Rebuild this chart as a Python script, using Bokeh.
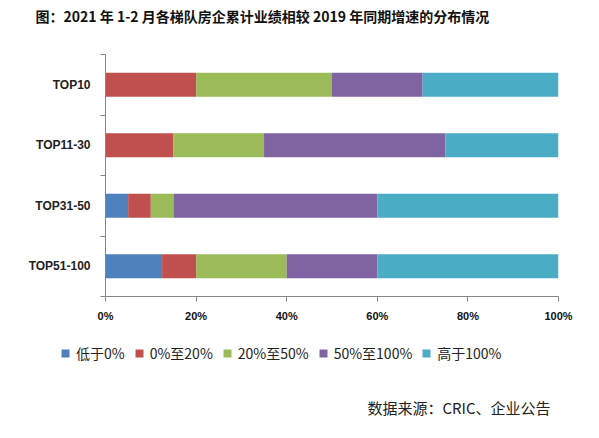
from bokeh.plotting import figure
from bokeh.layouts import column, row
from bokeh.models import (ColumnDataSource, Range1d, FixedTicker, PrintfTickFormatter,
                          Legend, LegendItem, Label)
from bokeh.embed import file_html
from bokeh.resources import INLINE

# data (share of companies, %)
categories = ["TOP10", "TOP11-30", "TOP31-50", "TOP51-100"]
series = ["低于0%", "0%至20%", "20%至50%", "50%至100%", "高于100%"]
below_0 = [0, 0, 5, 12.5]
from_0_to_20 = [20, 15, 5, 7.5]
from_20_to_50 = [30, 20, 5, 20]
from_50_to_100 = [20, 40, 45, 20]
above_100 = [30, 25, 40, 40]
x_ticks = [0, 20, 40, 60, 80, 100]

colors = ["#4F81BD", "#C0504D", "#9BBB59", "#8064A2", "#4BACC6"]
keys = ["s0", "s1", "s2", "s3", "s4"]

source = ColumnDataSource(data=dict(
    y=list(range(len(categories))),
    s0=below_0, s1=from_0_to_20, s2=from_20_to_50, s3=from_50_to_100, s4=above_100,
))


def blank(h):
    f = figure(width=591, height=h, x_range=Range1d(0, 591), y_range=Range1d(0, h),
               x_axis_location=None, y_axis_location=None,
               output_backend="svg", toolbar_location=None, min_border=0)
    f.grid.visible = False
    f.outline_line_color = None
    return f


# top strip: title
p0 = blank(30)
p0.add_layout(Label(x=35, y=15, x_units="screen", y_units="screen",
                    text="图：2021 年 1-2 月各梯队房企累计业绩相较 2019 年同期增速的分布情况",
                    text_align="left", text_baseline="middle",
                    text_font="Noto Sans CJK SC", text_font_style="bold",
                    text_font_size="14px", text_color="#111111"))

# main chart
p = figure(width=591, height=300, x_range=Range1d(0, 100),
           y_range=Range1d(len(categories) - 0.5, -0.5),
           output_backend="svg", toolbar_location=None,
           min_border_left=105, min_border_right=33, min_border_top=24, min_border_bottom=34)
p.outline_line_color = None
p.xgrid.visible = False
p.ygrid.visible = False

p.hbar_stack(keys, y="y", height=0.4, color=colors, line_color=None, source=source)

xa = p.xaxis[0]
xa.ticker = FixedTicker(ticks=x_ticks)
xa.formatter = PrintfTickFormatter(format="%d%%")
xa.axis_line_color = "#868686"
xa.major_tick_line_color = "#868686"
xa.major_tick_out = 5
xa.major_tick_in = 0
xa.minor_tick_line_color = None
xa.major_label_text_font = "Liberation Sans"
xa.major_label_text_font_style = "bold"
xa.major_label_text_font_size = "11px"
xa.major_label_text_color = "#111111"
xa.major_label_standoff = 8

# y axis: labels at centres, ticks on the category boundaries
ya = p.yaxis[0]
ya.ticker = FixedTicker(ticks=list(range(len(categories))),
                        minor_ticks=[i - 0.5 for i in range(len(categories) + 1)])
ya.major_label_overrides = {i: c for i, c in enumerate(categories)}
ya.axis_line_color = "#868686"
ya.major_tick_line_color = None
ya.minor_tick_line_color = "#868686"
ya.minor_tick_out = 5
ya.minor_tick_in = 0
ya.major_label_text_font = "Liberation Sans"
ya.major_label_text_font_style = "bold"
ya.major_label_text_font_size = "12px"
ya.major_label_text_color = "#222222"
ya.major_label_standoff = 9

# bottom strip: legend and source note
p2 = blank(108)
proxies = p2.hbar_stack(keys, y="y", height=0.4, color=colors, line_color=None, source=source)
for r in proxies:
    r.visible = False

legend = Legend(
    items=[LegendItem(label=s, renderers=[r]) for s, r in zip(series, proxies)],
    orientation="horizontal", location=(60, 75),
    glyph_width=10, glyph_height=10, label_standoff=6, spacing=9,
    padding=0, margin=0, border_line_color=None, background_fill_alpha=0,
    inactive_fill_alpha=0, click_policy="none",
    label_text_font="Noto Sans CJK SC", label_text_font_size="14px",
    label_text_color="#222222",
)
p2.add_layout(legend, "center")

p2.add_layout(Label(x=550, y=31, x_units="screen", y_units="screen",
                    text="数据来源：CRIC、企业公告", text_align="right", text_baseline="middle",
                    text_font="Noto Sans CJK SC", text_font_size="15px", text_color="#222222"))

layout = column(row(p0), p, row(p2), spacing=0)
open("out.html", "w").write(file_html(layout, INLINE))
